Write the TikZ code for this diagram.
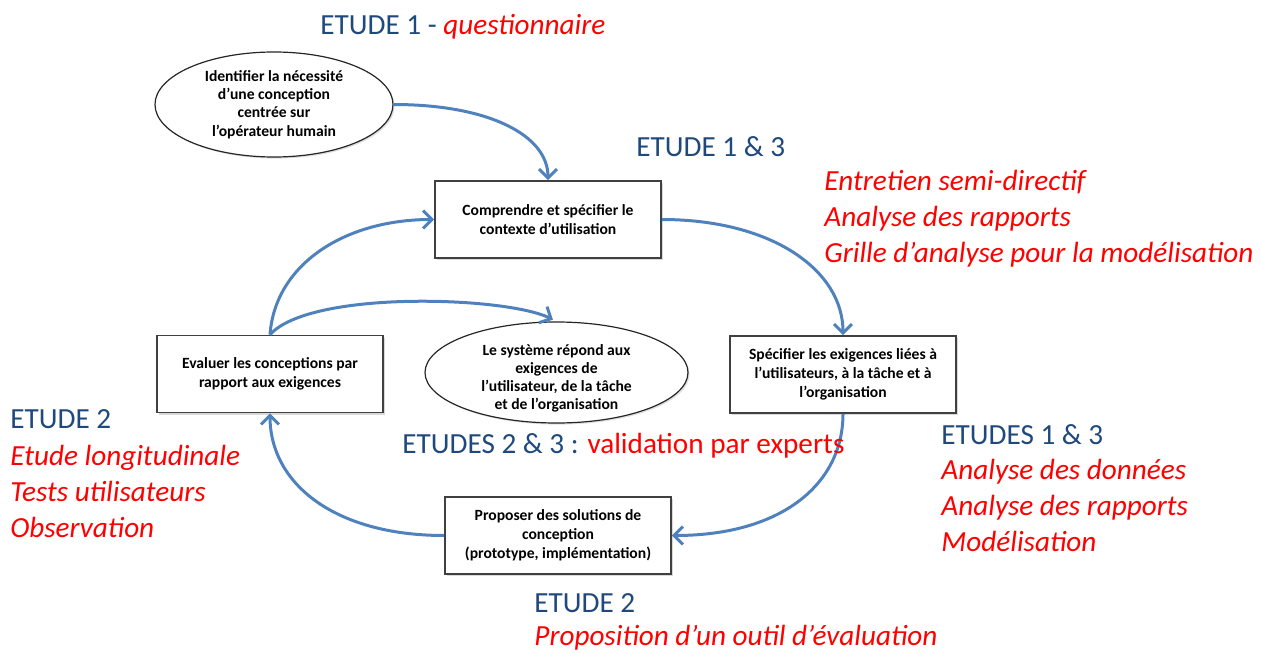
\documentclass[tikz,border=0pt]{standalone}
\usepackage{fontspec}
\setmainfont{Carlito}
\usetikzlibrary{shapes.geometric,arrows.meta,shadows}
\definecolor{dkblue}{RGB}{31,73,125}
\definecolor{arrblue}{RGB}{79,129,189}
\definecolor{rd}{RGB}{255,0,0}
\definecolor{bordergray}{RGB}{64,64,64}
\begin{document}
\begin{tikzpicture}[x=0.5pt,y=-0.5pt,
  box/.style={draw=bordergray, line width=0.8pt, fill=white, rectangle,
    minimum width=#1, minimum height=38.5pt, align=center, inner sep=0pt,
    font=\fontsize{7.8}{9.5}\selectfont\bfseries,
    drop shadow={shadow xshift=1pt,shadow yshift=-1pt,opacity=0.3}},
  ell/.style={draw=black!85, line width=0.6pt, fill=white, ellipse, inner sep=0pt,
    drop shadow={shadow xshift=0.8pt,shadow yshift=-0.8pt,opacity=0.25}},
  etxt/.style={font=\fontsize{7.8}{9.1}\selectfont\bfseries, align=center, inner sep=0pt},
  conn/.style={draw=arrblue, line width=1.5pt, -{Straight Barb[length=4.5pt,width=9pt]}},
  lbl/.style={inner sep=0pt, font=\fontsize{14.6}{18}\selectfont, align=left, anchor=base west},
  blu/.style={text=dkblue},
  rdi/.style={text=rd, font=\fontsize{14.6}{18}\selectfont\itshape}
]
\useasboundingbox (0,0) rectangle (1261,652);

% nodes
\node[ell, minimum width=119pt, minimum height=52.5pt,
  label={[etxt]center:Identifier la nécessité\\d’une conception\\centrée sur\\l’opérateur humain}]
  (e1) at (274,104.5) {};
\node[box=113pt] (comp) at (548,219.5) {Comprendre et spécifier le\\contexte d’utilisation};
\node[box=113pt] (ev) at (270,374) {Evaluer les conceptions par\\rapport aux exigences};
\node[ell, minimum width=131.5pt, minimum height=50.5pt,
  label={[etxt, yshift=-3pt]center:Le système répond aux\\exigences de\\l’utilisateur, de la tâche\\et de l’organisation}]
  (e2) at (556.5,372.5) {};
\node[box=113pt] (spec) at (843,374.5) {Spécifier les exigences liées à\\l’utilisateurs, à la tâche et à\\l’organisation};
\node[box=113pt] (prop) at (558,535.5) {Proposer des solutions de\\conception\\(prototype, implémentation)};

% connectors
\draw[conn] (e1.east) .. controls +(95,0) and +(0,-45) .. (comp.north);
\draw[conn] (comp.east) .. controls +(110,0) and +(0,-65) .. (spec.north);
\draw[conn] (spec.south) .. controls +(0,70) and +(110,0) .. (prop.east);
\draw[conn] (prop.west) .. controls +(-110,0) and +(0,70) .. (ev.south);
\draw[conn] (ev.north) .. controls +(5,-70) and +(-90,0) .. (comp.west);
\draw[conn, shorten >=2pt] (ev.north) .. controls +(40,-45) and +(-50,-25) .. (e2.north);

% labels
\node[lbl] (t1) at (320,34.5) {\textcolor{dkblue}{ETUDE 1 -} \textcolor{rd}{\itshape questionnaire}};
\node[lbl, blu] (t2) at (636,156.5) {ETUDE 1 \& 3};
\node[lbl, rdi] (t3) at (824,262.5) {Entretien semi-directif\\Analyse des rapports\\Grille d’analyse pour la modélisation};
\node[lbl, blu] (t4) at (10,428.5) {ETUDE 2};
\node[lbl, rdi] (t5) at (10,537.5) {Etude longitudinale\\Tests utilisateurs\\Observation};
\node[lbl] (t6) at (402,453.5) {\textcolor{dkblue}{ETUDES 2 \& 3 :} \textcolor{rd}{validation par experts}};
\node[lbl, blu] (t7) at (941,444.5) {ETUDES 1 \& 3};
\node[lbl, rdi] (t8) at (941,551.5) {Analyse des données\\Analyse des rapports\\Modélisation};
\node[lbl, blu] (t9) at (534,612.5) {ETUDE 2};
\node[lbl, rdi] (t10) at (534,645.5) {Proposition d’un outil d’évaluation};
\end{tikzpicture}
\end{document}
